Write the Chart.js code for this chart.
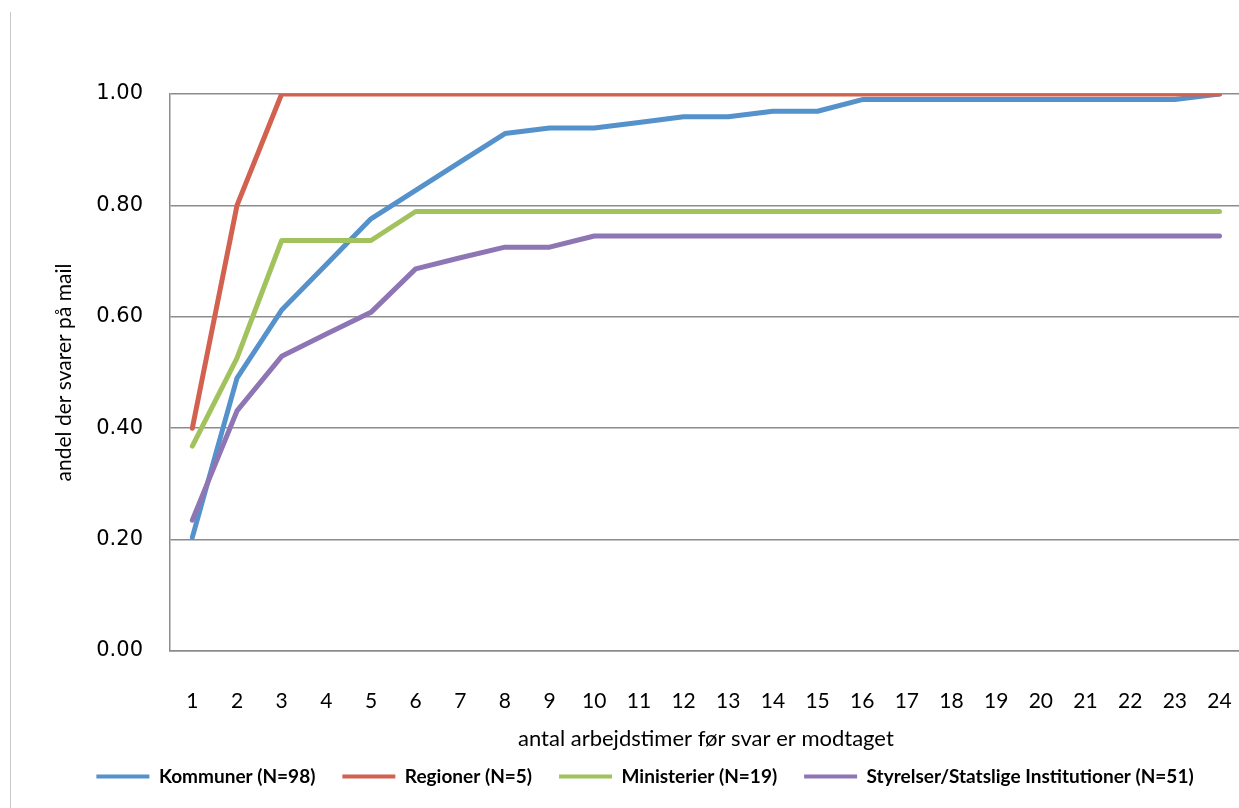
<!DOCTYPE html>
<html>
<head>
<meta charset="utf-8">
<script src="https://cdn.jsdelivr.net/npm/chart.js@4.4.1/dist/chart.umd.min.js"></script>
<style>
  html,body{margin:0;padding:0;background:#fff;overflow:hidden;}
  #wrap{position:absolute;left:0;top:0;width:1262px;height:808px;}
  #edge{position:absolute;left:10px;top:12px;width:1px;height:800px;background:#c9c9c9;}
</style>
</head>
<body>
<div id="wrap"><canvas id="chart"></canvas></div>
<div id="edge"></div>
<script>
// timer 1..24
const hours=["1","2","3","4","5","6","7","8","9","10","11","12","13","14","15","16","17","18","19","20","21","22","23","24"];
const yTicks=[0,0.2,0.4,0.6,0.8,1.0];

// andel der har svaret
const kommuner=[0.204,0.49,0.612,0.694,0.776,0.827,0.878,0.929,0.939,0.939,0.949,0.959,0.959,0.969,0.969,0.99,0.99,0.99,0.99,0.99,0.99,0.99,0.99,1.0];
const regioner=[0.4,0.8,1,1,1,1,1,1,1,1,1,1,1,1,1,1,1,1,1,1,1,1,1,1];
const ministerier=[0.368,0.526,0.737,0.737,0.737,0.789,0.789,0.789,0.789,0.789,0.789,0.789,0.789,0.789,0.789,0.789,0.789,0.789,0.789,0.789,0.789,0.789,0.789,0.789];
const styrelser=[0.235,0.431,0.529,0.569,0.608,0.686,0.706,0.725,0.725,0.745,0.745,0.745,0.745,0.745,0.745,0.745,0.745,0.745,0.745,0.745,0.745,0.745,0.745,0.745];

const names=["Kommuner (N=98)","Regioner (N=5)","Ministerier (N=19)","Styrelser/Statslige Institutioner (N=51)"];
const colors=["#5592cb","#d2614f","#a2c25d","#8e75b4"];
const series=[kommuner,regioner,ministerier,styrelser];

const gridGrey="#8c8c8c";

const datasets=series.map((d,i)=>({
  label:names[i],
  data:d,
  borderColor:colors[i],
  backgroundColor:colors[i],
  borderWidth:5,
  pointRadius:0,
  tension:0,
  borderCapStyle:"round",
  borderJoinStyle:"round",
  fill:false,
  order:series.length-i   // senere serier tegnes ovenpå, som i Excel
}));

new Chart(document.getElementById("chart"),{
  type:"line",
  data:{labels:hours,datasets:datasets},
  options:{
    responsive:true,
    maintainAspectRatio:false,
    animation:false,
    layout:{padding:{left:44,right:16,top:94,bottom:12}},
    plugins:{
      tooltip:{enabled:false},
      legend:{
        position:"bottom",
        labels:{
          boxWidth:53,
          boxHeight:4,
          padding:27,
          color:"#000",
          font:{family:"Lato",weight:"bold",size:19},
          sort:(a,b)=>a.datasetIndex-b.datasetIndex,
          generateLabels:(chart)=>{
            const items=Chart.defaults.plugins.legend.labels.generateLabels(chart);
            items.forEach(it=>{it.lineWidth=0;});
            return items;
          }
        }
      }
    },
    scales:{
      x:{
        type:"category",
        offset:true,
        grid:{display:false},
        border:{display:true,color:gridGrey,width:1.5},
        ticks:{
          color:"#000",
          padding:30,
          maxRotation:0,
          autoSkip:false,
          font:{family:"Lato",size:21}
        },
        title:{
          display:true,
          text:"antal arbejdstimer før svar er modtaget",
          color:"#000",
          font:{family:"Lato",size:22,lineHeight:1},
          padding:{top:0,bottom:-10}
        },
        afterFit:(s)=>{s.height=89;}
      },
      y:{
        min:0,
        max:1,
        afterBuildTicks:(s)=>{s.ticks=yTicks.map(v=>({value:v}));},
        grid:{color:gridGrey,lineWidth:1.5,drawTicks:false},
        border:{display:true,color:gridGrey,width:1.5},
        ticks:{
          color:"#000",
          padding:27,
          font:{family:"DejaVu Sans",size:21},
          callback:(v)=>Number(v).toFixed(2)
        },
        title:{
          display:true,
          text:"andel der svarer på mail",
          color:"#000",
          font:{family:"Lato",size:21,lineHeight:1},
          padding:{top:10,bottom:0}
        },
        afterFit:(s)=>{s.width=126;}
      }
    }
  }
});
</script>
</body>
</html>
